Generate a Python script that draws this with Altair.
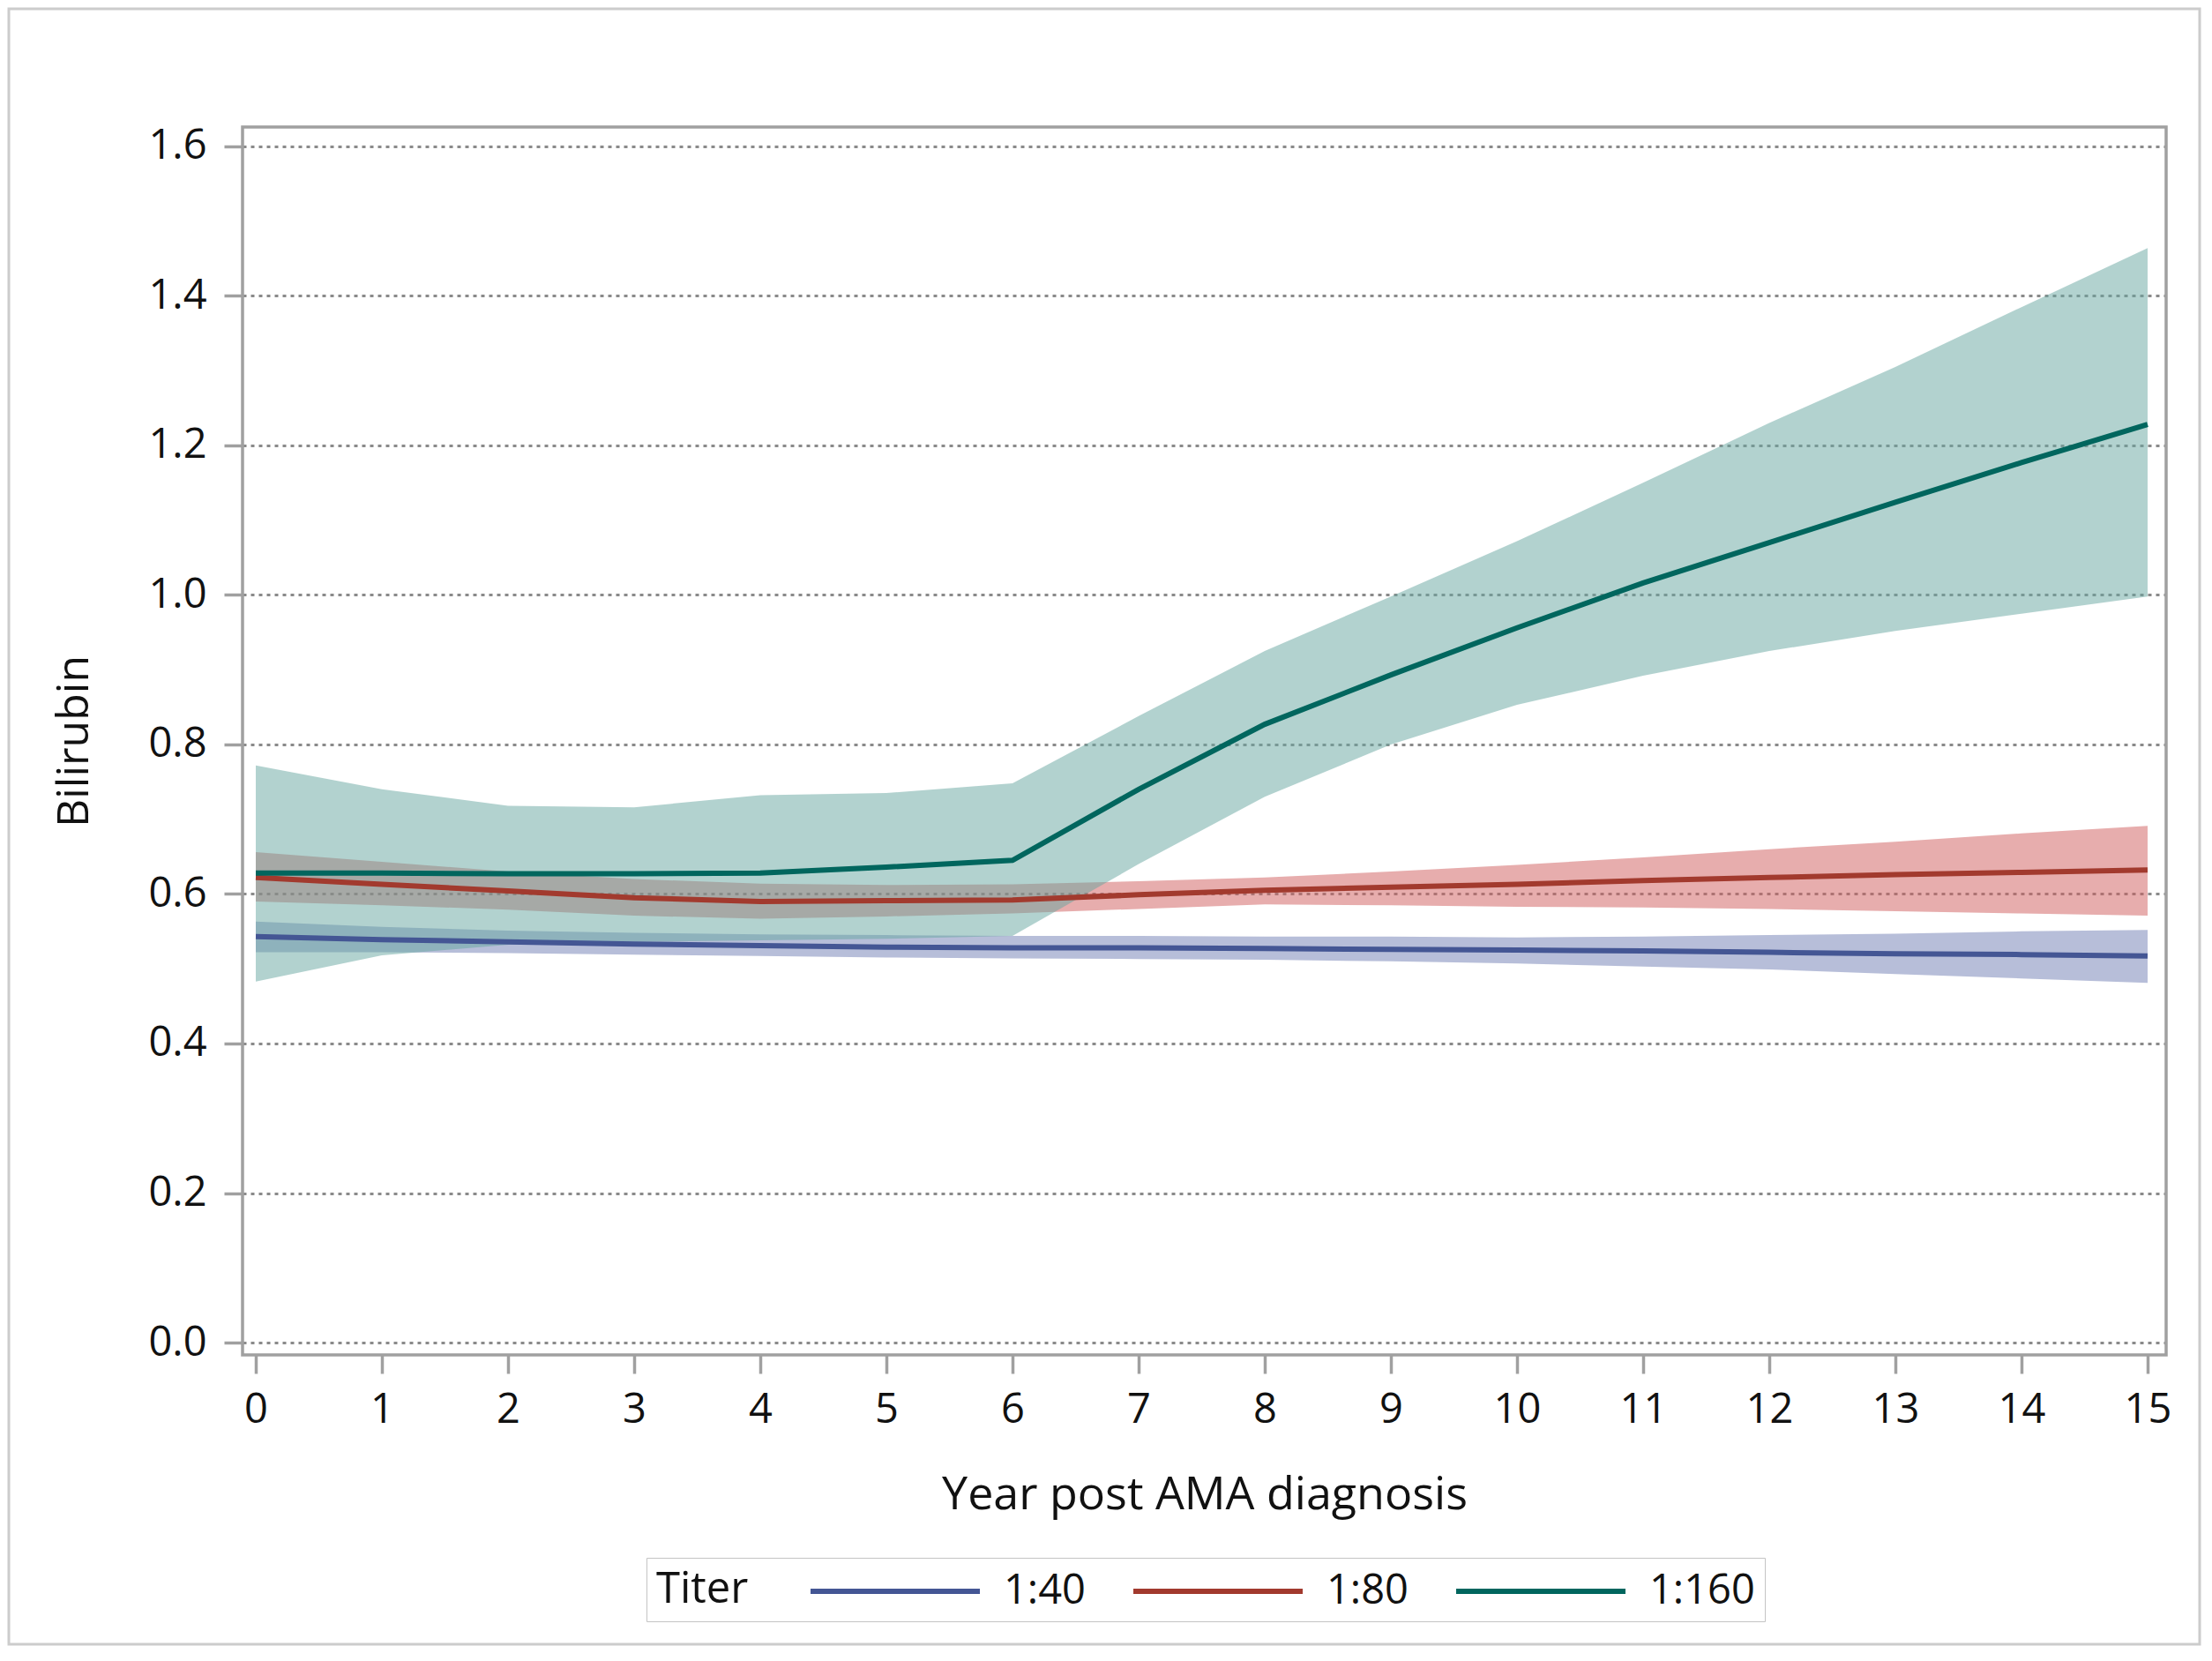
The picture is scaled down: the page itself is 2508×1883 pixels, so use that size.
import altair as alt
import pandas as pd

years = list(range(16))
titers = ["1:40", "1:80", "1:160"]

mean_140 = [0.543, 0.539, 0.536, 0.533, 0.531, 0.529, 0.528, 0.528, 0.527, 0.526, 0.525, 0.524, 0.522, 0.520, 0.519, 0.517]
upper_140 = [0.563, 0.556, 0.551, 0.548, 0.546, 0.545, 0.544, 0.544, 0.543, 0.543, 0.542, 0.543, 0.545, 0.547, 0.550, 0.552]
lower_140 = [0.522, 0.522, 0.521, 0.519, 0.517, 0.515, 0.514, 0.513, 0.512, 0.510, 0.507, 0.503, 0.499, 0.493, 0.487, 0.481]

mean_180 = [0.622, 0.613, 0.604, 0.595, 0.590, 0.591, 0.592, 0.599, 0.605, 0.609, 0.613, 0.618, 0.622, 0.626, 0.629, 0.632]
upper_180 = [0.656, 0.643, 0.630, 0.620, 0.614, 0.612, 0.613, 0.617, 0.622, 0.630, 0.639, 0.649, 0.660, 0.670, 0.681, 0.691]
lower_180 = [0.590, 0.585, 0.579, 0.571, 0.567, 0.570, 0.574, 0.580, 0.586, 0.585, 0.583, 0.582, 0.580, 0.577, 0.574, 0.571]

mean_1160 = [0.628, 0.628, 0.627, 0.627, 0.628, 0.636, 0.645, 0.740, 0.827, 0.893, 0.956, 1.016, 1.070, 1.124, 1.177, 1.228]
upper_1160 = [0.772, 0.740, 0.718, 0.716, 0.732, 0.735, 0.748, 0.838, 0.925, 0.998, 1.072, 1.150, 1.230, 1.305, 1.385, 1.464]
lower_1160 = [0.483, 0.518, 0.532, 0.536, 0.538, 0.540, 0.544, 0.640, 0.730, 0.800, 0.853, 0.892, 0.925, 0.952, 0.975, 0.998]

line_colors = ["#445694", "#A23A2E", "#01665E"]
band_colors = ["#6F7EB3", "#D05B5B", "#66A5A0"]

rows = []
for t, m, u, l in [("1:40", mean_140, upper_140, lower_140),
                   ("1:80", mean_180, upper_180, lower_180),
                   ("1:160", mean_1160, upper_1160, lower_1160)]:
    for yr, mv, uv, lv in zip(years, m, u, l):
        rows.append({"Year": yr, "Titer": t, "mean": mv, "upper": uv, "lower": lv})
df = pd.DataFrame(rows)

FONT = "Open Sans"
W, H = 2181, 1392
GRAY = "#a0a0a0"

xscale = alt.Scale(domain=[-0.105, 15.147], nice=False, zero=False)
yscale = alt.Scale(domain=[-0.0165, 1.6259], nice=False, zero=False)

xaxis = alt.Axis(title="Year post AMA diagnosis", values=years, format="d",
                 grid=False, tickSize=21, tickColor=GRAY, tickWidth=3.5,
                 domain=False, labelFontSize=47, labelPadding=18,
                 titleFontSize=52, titlePadding=48, labelFont=FONT, titleFont=FONT,
                 labelColor="#111", titleColor="#111", titleFontWeight="normal")
yaxis = alt.Axis(title="Bilirubin", values=[0, 0.2, 0.4, 0.6, 0.8, 1.0, 1.2, 1.4, 1.6],
                 format=".1f", grid=True, gridDash=[4, 5], gridColor="#8a8a8a",
                 gridWidth=3, tickSize=21, tickColor=GRAY, tickWidth=3.5,
                 domain=False, labelFontSize=47, labelPadding=20,
                 titleFontSize=50, titlePadding=58, labelFont=FONT, titleFont=FONT,
                 labelColor="#111", titleColor="#111", titleFontWeight="normal")

base = alt.Chart(df)

bands = base.mark_area(opacity=0.5).encode(
    x=alt.X("Year:Q", scale=xscale, axis=xaxis),
    y=alt.Y("lower:Q", scale=yscale, axis=yaxis),
    y2="upper:Q",
    color=alt.Color("Titer:N", scale=alt.Scale(domain=titers, range=band_colors), legend=None),
)

lines = base.mark_line(strokeWidth=6).encode(
    x=alt.X("Year:Q", scale=xscale),
    y=alt.Y("mean:Q", scale=yscale),
    color=alt.Color("Titer:N", scale=alt.Scale(domain=titers, range=line_colors),
                    legend=alt.Legend(title="Titer", orient="none", legendX=458, legendY=1622,
                                      direction="horizontal", titleOrient="left",
                                      symbolType="M-7,0H1", symbolStrokeWidth=6,
                                      symbolSize=2304, labelFontSize=47, titleFontSize=49,
                                      labelFont=FONT, titleFont=FONT, titleFontWeight="normal",
                                      labelColor="#111", titleColor="#111",
                                      strokeColor="#c4c4c4", padding=11, titlePadding=211,
                                      labelOffset=24, columnPadding=42, gridAlign="each")),
    order="Year:Q",
)

deco_df = pd.DataFrame({"k": [0]})
frame = alt.Chart(deco_df).mark_rect(fill=None, stroke=GRAY, strokeWidth=3.5).encode(
    x=alt.value(0), x2=alt.value(W), y=alt.value(0), y2=alt.value(H)
)
border = alt.Chart(deco_df).mark_rect(fill=None, stroke="#cccccc", strokeWidth=3).encode(
    x=alt.value(-265), x2=alt.value(W + 38), y=alt.value(-134), y2=alt.value(H + 328)
)

chart = alt.layer(bands, lines, frame, border).resolve_scale(color="independent").properties(
    width=W, height=H,
    autosize=alt.AutoSizeParams(type="none"),
    padding={"left": 267, "top": 136, "right": 40, "bottom": 330},
).configure_view(strokeWidth=0).configure(background="white")

chart.save("out.html", embed_options={"renderer": "svg", "actions": False})
